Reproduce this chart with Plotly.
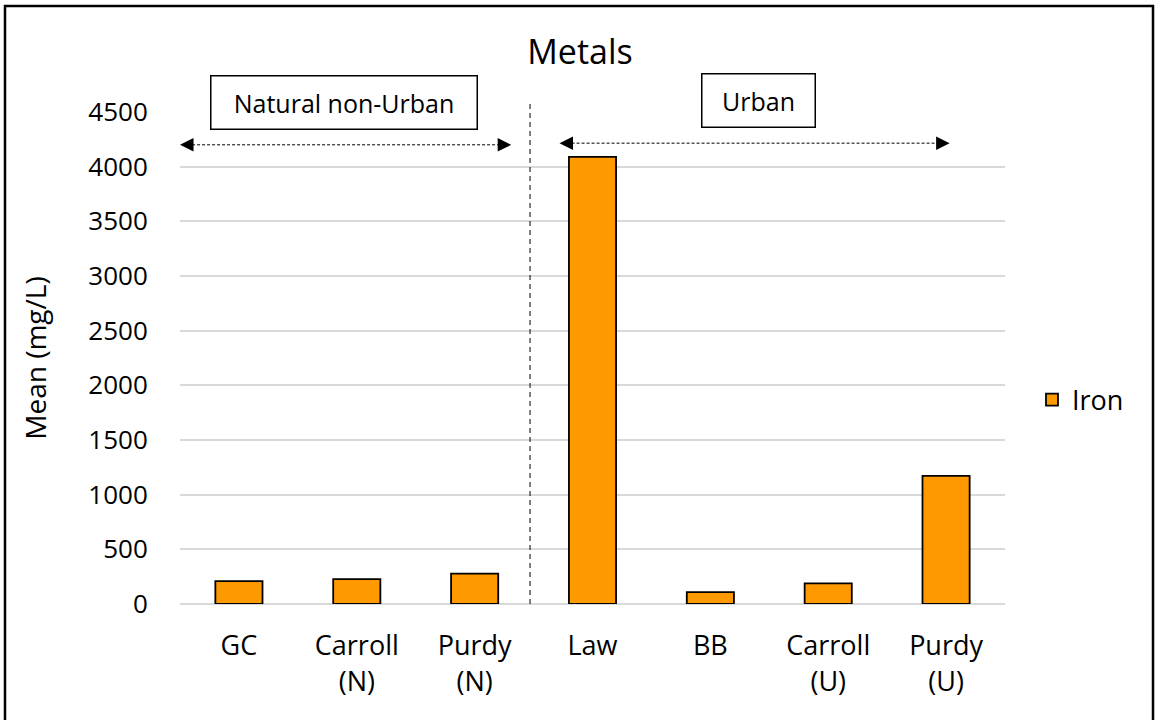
import plotly.graph_objects as go

# Datos
sites = ["GC", "Carroll<br>(N)", "Purdy<br>(N)", "Law", "BB", "Carroll<br>(U)", "Purdy<br>(U)"]
iron = [210, 228, 278, 4090, 108, 188, 1172]
y_ticks = [0, 500, 1000, 1500, 2000, 2500, 3000, 3500, 4000, 4500]

W, H = 1155, 720
L, R, T, B = 180, 150, 112, 116          # área de trazado 825 x 492 px
PW, PH = W - L - R, H - T - B
FONT = "Open Sans, Liberation Sans, sans-serif"
x_pos = list(range(len(sites)))


def px(xp):   # píxel horizontal -> papel
    return (xp - L) / PW


def py(yp):   # píxel vertical -> papel
    return (H - B - yp) / PH


fig = go.Figure()
fig.add_trace(go.Bar(
    x=x_pos, y=iron, name="Iron", width=0.4,
    marker=dict(color="#ff9900", line=dict(color="#000000", width=1.8)),
))

# Línea divisoria
fig.add_shape(type="line", xref="x", yref="paper", x0=2.47, x1=2.47, y0=0, y1=py(100),
              line=dict(color="black", width=1, dash="5px,4px"))

# Flechas punteadas
for x0, x1, y in [(-0.44, 2.25, 4200), (2.78, 5.97, 4215)]:
    fig.add_shape(type="line", xref="x", yref="y", x0=x0, x1=x1, y0=y, y1=y,
                  line=dict(color="black", width=1, dash="3px,2px"))
    for tip, off in [(x0 - 0.06, 14), (x1 + 0.06, -14)]:
        fig.add_annotation(x=tip, y=y, xref="x", yref="y", ax=off, ay=0, text="",
                           showarrow=True, arrowhead=2, arrowsize=1.8, arrowwidth=1.5,
                           arrowcolor="black")

# Cajas de texto
fig.add_annotation(x=px(343.5), y=py(102.5), xref="paper", yref="paper",
                   xanchor="center", yanchor="middle",
                   text="Natural non-Urban", showarrow=False,
                   font=dict(family=FONT, size=25, color="black"),
                   bordercolor="black", borderwidth=1.5, borderpad=9, bgcolor="white",
                   width=247)
fig.add_annotation(x=px(758), y=py(101), xref="paper", yref="paper",
                   xanchor="center", yanchor="middle",
                   text="Urban", showarrow=False,
                   font=dict(family=FONT, size=25, color="black"),
                   bordercolor="black", borderwidth=1.5, borderpad=9, bgcolor="white",
                   width=94)

# Borde exterior
fig.add_shape(type="rect", xref="paper", yref="paper",
              x0=px(5), x1=px(1153), y0=py(740), y1=py(6),
              line=dict(color="black", width=2.5))

fig.update_layout(
    width=W, height=H,
    margin=dict(l=L, r=R, t=T, b=B),
    paper_bgcolor="white", plot_bgcolor="white",
    title=dict(text="Metals", x=580 / W, xanchor="center", y=1 - 52 / H, yanchor="middle",
               font=dict(family=FONT, size=34, color="black")),
    font=dict(family=FONT, color="black"),
    showlegend=True,
    legend=dict(x=px(1032), y=py(400), xanchor="left", yanchor="middle",
                font=dict(family=FONT, size=27, color="black"), itemwidth=30),
)
fig.update_xaxes(tickvals=x_pos, ticktext=sites, range=[-0.5, 6.5],
                 tickfont=dict(family=FONT, size=27, color="black"),
                 showgrid=False, zeroline=False, showline=False, ticks="outside", ticklen=18,
                 tickcolor="rgba(0,0,0,0)")
fig.update_yaxes(range=[0, 4500], tickvals=y_ticks, showgrid=True, gridcolor="#d9d9d9",
                 gridwidth=1.5, zeroline=True, zerolinecolor="#d9d9d9", zerolinewidth=1.5,
                 tickfont=dict(family=FONT, size=26, color="black"), ticks="outside",
                 ticklen=26, tickcolor="rgba(0,0,0,0)",
                 title=dict(text="Mean (mg/L)", font=dict(family=FONT, size=28, color="black"),
                            standoff=33))

fig.write_html("out.html", config={"displayModeBar": False},
               post_script="document.body.style.margin='0';")
